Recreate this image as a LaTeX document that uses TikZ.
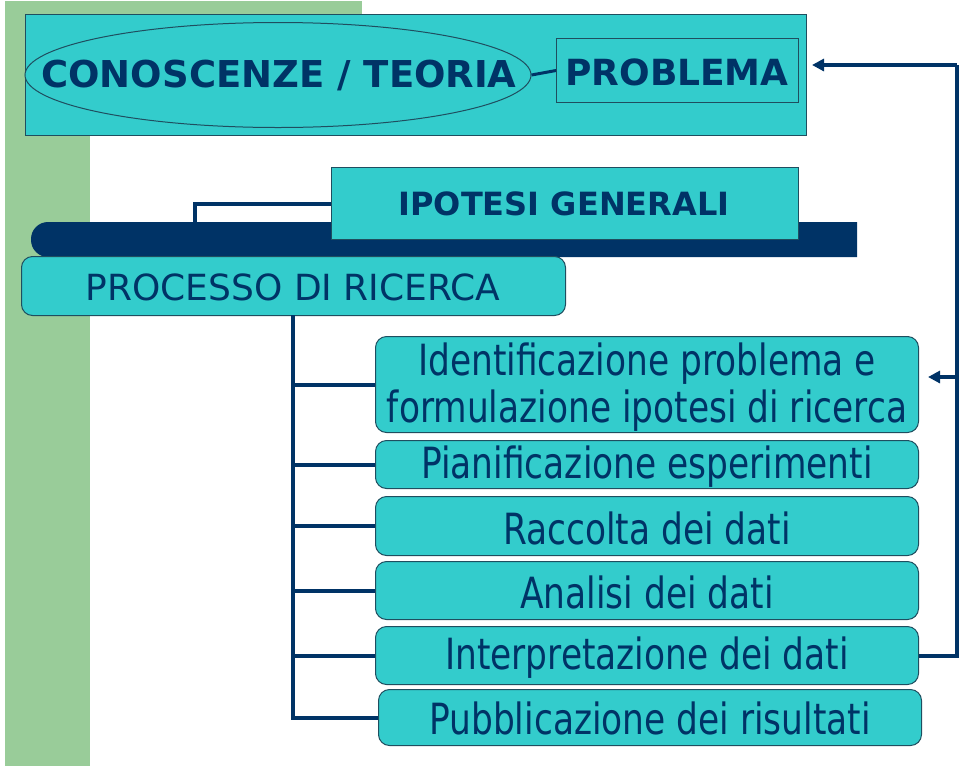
\documentclass[tikz,border=0pt]{standalone}
\usepackage{fontspec}
\setmainfont{DejaVu Sans}
\newfontfamily\condfont[FakeStretch=0.8]{DejaVu Sans}
\usetikzlibrary{arrows.meta,shapes.geometric}
\definecolor{teal1}{HTML}{33CCCC}
\definecolor{navy}{HTML}{003366}
\definecolor{greenbg}{HTML}{99CC99}
\definecolor{edge}{HTML}{1F4E5F}
\tikzset{
  box/.style={draw=edge, line width=1pt, fill=teal1, text=navy, inner sep=0pt, anchor=north west},
  rbox/.style={box, rounded corners=11pt},
  conn/.style={draw=navy, line width=4pt},
  arr/.style={conn, -{Triangle[length=12pt,width=12pt]}},
  stepfont/.style={font=\condfont\fontsize{43}{47}\selectfont, align=center},
}
\begin{document}
\begin{tikzpicture}[x=1pt,y=-1pt]
\useasboundingbox (0,0) rectangle (960,769);
% green background
\fill[greenbg] (5,1) rectangle (362,135);
\fill[greenbg] (5,1) rectangle (90,766);
% top box
\node[box, minimum width=781pt, minimum height=121pt] (top) at (25,14) {};
\node[draw=edge, line width=1pt, fill=teal1, ellipse, minimum width=506pt, minimum height=105pt, inner sep=0pt] (teoria) at (278,75) {};
\node[text=navy, font=\bfseries\fontsize{37}{40}\selectfont] at (279,75) {CONOSCENZE / TEORIA};
\node[box, minimum width=242pt, minimum height=64pt] (prob) at (556,38) {};
\node[text=navy, font=\bfseries\fontsize{36}{40}\selectfont] (probt) at (677,72) {PROBLEMA};
\draw[conn, line width=3pt] (teoria.east) -- (prob.west);
% navy bar
\fill[navy, rounded corners=17pt] (31,222) -- (31,257) -- (200,257) [sharp corners] -- (857,257) -- (857,222) -- (200,222) [rounded corners=17pt] -- cycle;
\coordinate (barhook) at (195,222);
% ipotesi
\node[box, minimum width=467pt, minimum height=72pt] (ipo) at (331,167) {};
\node[text=navy, font=\bfseries\fontsize{32}{36}\selectfont] at (564,204) {IPOTESI GENERALI};
\draw[conn] (barhook) |- (ipo.west);
% processo
\node[rbox, minimum width=544pt, minimum height=59pt] (proc) at (21,256) {};
\node[text=navy, font=\fontsize{36}{40}\selectfont] at (293,287) {PROCESSO DI RICERCA};
% steps
\node[rbox, minimum width=543pt, minimum height=96pt] (b1) at (375,336) {};
\node[rbox, minimum width=543pt, minimum height=48pt] (b2) at (375,440) {};
\node[rbox, minimum width=543pt, minimum height=59pt] (b3) at (375,496) {};
\node[rbox, minimum width=543pt, minimum height=58pt] (b4) at (375,561) {};
\node[rbox, minimum width=543pt, minimum height=58pt] (b5) at (375,626) {};
\node[rbox, minimum width=543pt, minimum height=56pt] (b6) at (378,689) {};
\node[stepfont, text=navy] at ([yshift=-3pt]b1.center) {Identificazione problema e\\formulazione ipotesi di ricerca};
\node[stepfont, text=navy] at ([yshift=-2pt]b2.center) {Pianificazione esperimenti};
\node[stepfont, text=navy] at ([yshift=-2pt]b3.center) {Raccolta dei dati};
\node[stepfont, text=navy] at ([yshift=-2pt]b4.center) {Analisi dei dati};
\node[stepfont, text=navy] at ([yshift=-2pt]b5.center) {Interpretazione dei dati};
\node[stepfont, text=navy] at ([yshift=-1pt]b6.center) {Pubblicazione dei risultati};
% tree
\coordinate (spine) at (293,315);
\draw[conn] (spine) |- (b6.west);
\foreach \b in {b1,b2,b3,b4,b5}{\draw[conn] (spine |- \b.west) -- (\b.west);}
% feedback
\coordinate (fbx) at (957,65);
\coordinate (probtip) at (812,65);
\coordinate (b1tip) at (928,377);
\draw[conn] (b5.east) -- (b5.east -| fbx) -- (fbx);
\draw[arr] (fbx) -- (probtip);
\draw[arr] (fbx |- b1tip) -- (b1tip);
\end{tikzpicture}
\end{document}
